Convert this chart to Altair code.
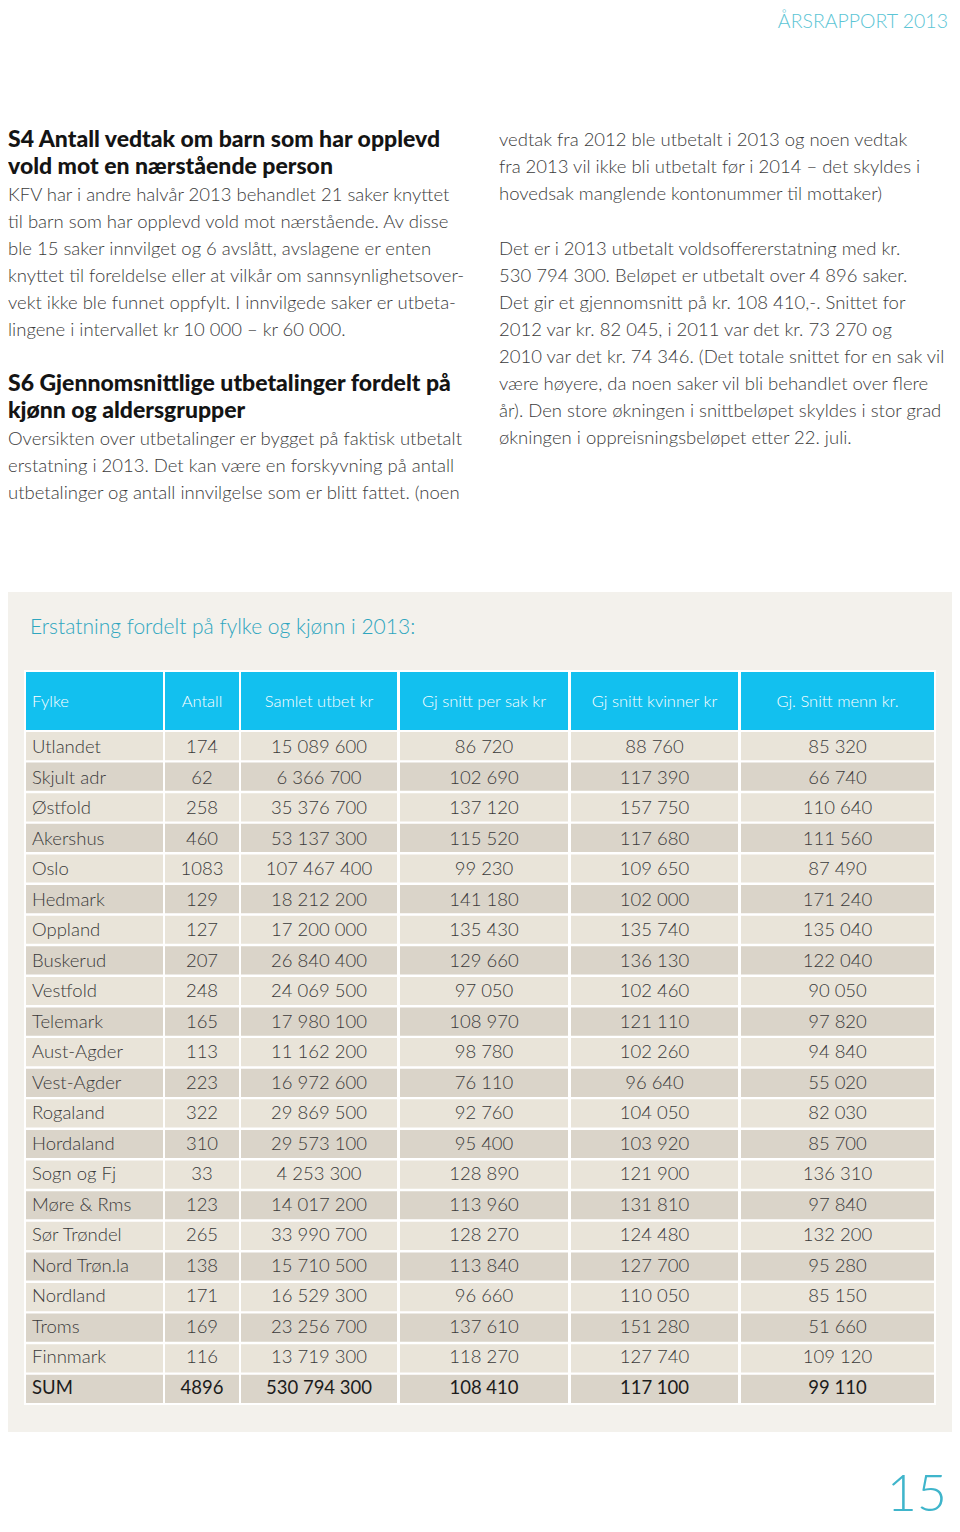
import altair as alt
import pandas as pd

# ---------------- data ----------------
fylke = ["Utlandet", "Skjult adr", "Østfold", "Akershus", "Oslo", "Hedmark", "Oppland",
         "Buskerud", "Vestfold", "Telemark", "Aust-Agder", "Vest-Agder", "Rogaland",
         "Hordaland", "Sogn og Fj", "Møre & Rms", "Sør Trøndel", "Nord Trøn.la",
         "Nordland", "Troms", "Finnmark", "SUM"]
antall = [174, 62, 258, 460, 1083, 129, 127, 207, 248, 165, 113, 223, 322, 310, 33,
          123, 265, 138, 171, 169, 116, 4896]
samlet = [15089600, 6366700, 35376700, 53137300, 107467400, 18212200, 17200000,
          26840400, 24069500, 17980100, 11162200, 16972600, 29869500, 29573100,
          4253300, 14017200, 33990700, 15710500, 16529300, 23256700, 13719300, 530794300]
snitt_sak = [86720, 102690, 137120, 115520, 99230, 141180, 135430, 129660, 97050,
             108970, 98780, 76110, 92760, 95400, 128890, 113960, 128270, 113840,
             96660, 137610, 118270, 108410]
snitt_kvinner = [88760, 117390, 157750, 117680, 109650, 102000, 135740, 136130, 102460,
                 121110, 102260, 96640, 104050, 103920, 121900, 131810, 124480, 127700,
                 110050, 151280, 127740, 117100]
snitt_menn = [85320, 66740, 110640, 111560, 87490, 171240, 135040, 122040, 90050,
              97820, 94840, 55020, 82030, 85700, 136310, 97840, 132200, 95280,
              85150, 51660, 109120, 99110]
headers = ["Fylke", "Antall", "Samlet utbet kr", "Gj snitt per sak kr",
           "Gj snitt kvinner kr", "Gj. Snitt menn kr."]

table_title = "Erstatning fordelt på fylke og kjønn i 2013:"
page_header = "ÅRSRAPPORT 2013"
page_number = "15"

left_head1 = ["S4 Antall vedtak om barn som har opplevd", "vold mot en nærstående person"]
left_body1 = ["KFV har i andre halvår 2013 behandlet 21 saker knyttet",
              "til barn som har opplevd vold mot nærstående. Av disse",
              "ble 15 saker innvilget og 6 avslått, avslagene er enten",
              "knyttet til foreldelse eller at vilkår om sannsynlighetsover-",
              "vekt ikke ble funnet oppfylt. I innvilgede saker er utbeta-",
              "lingene i intervallet kr 10 000 – kr 60 000."]
left_head2 = ["S6 Gjennomsnittlige utbetalinger fordelt på", "kjønn og aldersgrupper"]
left_body2 = ["Oversikten over utbetalinger er bygget på faktisk utbetalt",
              "erstatning i 2013. Det kan være en forskyvning på antall",
              "utbetalinger og antall innvilgelse som er blitt fattet. (noen"]
right_body1 = ["vedtak fra 2012 ble utbetalt i 2013 og noen vedtak",
               "fra 2013 vil ikke bli utbetalt før i 2014 – det skyldes i",
               "hovedsak manglende kontonummer til mottaker)"]
right_body2 = ["Det er i 2013 utbetalt voldsoffererstatning med kr.",
               "530 794 300. Beløpet er utbetalt over 4 896 saker.",
               "Det gir et gjennomsnitt på kr. 108 410,-. Snittet for",
               "2012 var kr. 82 045, i 2011 var det kr. 73 270 og",
               "2010 var det kr. 74 346. (Det totale snittet for en sak vil",
               "være høyere, da noen saker vil bli behandlet over flere",
               "år). Den store økningen i snittbeløpet skyldes i stor grad",
               "økningen i oppreisningsbeløpet etter 22. juli."]

# ---------------- layout (chart pixel coords = page coords - 8) ----------------
W, H = 944, 1516
OFF = 8
FONT = "Lato"
LH = 27  # line height
col_x0 = [26, 165, 241, 400, 571, 741]
col_x1 = [163, 239, 397, 568, 738, 934]


def fmt(v):
    return f"{v:,}".replace(",", " ")


def lines_df(lines, x, y0):
    return pd.DataFrame({"text": lines,
                         "x": [x - OFF] * len(lines),
                         "y": [y0 - OFF + i * LH for i in range(len(lines))]})


def text_layer(df, size, color, weight=400, align="left", font=FONT, baseline="middle"):
    return alt.Chart(df).mark_text(
        align=align, baseline=baseline, fontSize=size, color=color,
        fontWeight=weight, font=font
    ).encode(
        x=alt.X("x:Q", scale=None, axis=None),
        y=alt.Y("y:Q", scale=None, axis=None),
        text="text:N",
    )


body_color = "#3b3b3b"
head_color = "#141414"
LX = 8  # left column (page x)
RX = 499
BODY = 18.5
HEAD = 23

layers = []
# page header and number
layers.append(text_layer(pd.DataFrame({"text": [page_header], "x": [948 - OFF], "y": [22 - OFF]}),
                         19.5, "#5cc5d5", 300, "right"))
layers.append(text_layer(pd.DataFrame({"text": [page_number], "x": [947 - OFF], "y": [1522 - OFF]}),
                         52, "#3fb5cb", 300, "right", baseline="bottom"))

# paragraphs
layers.append(text_layer(lines_df(left_head1, LX, 140), HEAD, head_color, 900))
layers.append(text_layer(lines_df(left_body1, LX, 195), BODY, body_color, 300))
layers.append(text_layer(lines_df(left_head2, LX, 384), HEAD, head_color, 900))
layers.append(text_layer(lines_df(left_body2, LX, 439), BODY, body_color, 300))
layers.append(text_layer(lines_df(right_body1, RX, 140), BODY, body_color, 300))
layers.append(text_layer(lines_df(right_body2, RX, 249), BODY, body_color, 300))

# panel background
layers.append(alt.Chart(pd.DataFrame({"a": [0]})).mark_rect(color="#f3f1ec").encode(
    x=alt.value(2 - OFF), x2=alt.value(958 - OFF), y=alt.value(592 - OFF), y2=alt.value(1432 - OFF)))
# white table base
layers.append(alt.Chart(pd.DataFrame({"a": [0]})).mark_rect(color="#ffffff").encode(
    x=alt.value(24 - OFF), x2=alt.value(936 - OFF), y=alt.value(670 - OFF), y2=alt.value(1405 - OFF)))

layers.append(text_layer(pd.DataFrame({"text": [table_title], "x": [30 - OFF], "y": [628 - OFF]}),
                         21, "#2fa6bf", 300))

# header row
hdr = pd.DataFrame({"text": headers,
                    "x0": [v - OFF for v in col_x0], "x1": [v - OFF for v in col_x1]})
hdr["xt"] = [(a + b) / 2 for a, b in zip(hdr["x0"], hdr["x1"])]
hdr.loc[0, "xt"] = 32 - OFF
hdr["align"] = ["left"] + ["center"] * 5
layers.append(alt.Chart(hdr).mark_rect(color="#12c0ef").encode(
    x=alt.X("x0:Q", scale=None, axis=None), x2="x1:Q",
    y=alt.value(672 - OFF), y2=alt.value(730 - OFF)))
for al in ["left", "center"]:
    layers.append(alt.Chart(hdr[hdr["align"] == al]).mark_text(
        align=al, baseline="middle", fontSize=16.5, color="#ffffff", font=FONT, fontWeight=300
    ).encode(x=alt.X("xt:Q", scale=None, axis=None), y=alt.value(702 - OFF), text="text:N"))

# body cells
rows = []
cols_vals = [fylke, [str(v) for v in antall], [fmt(v) for v in samlet], [fmt(v) for v in snitt_sak],
             [fmt(v) for v in snitt_kvinner], [fmt(v) for v in snitt_menn]]
for r, name in enumerate(fylke):
    for c in range(6):
        x0 = col_x0[c] - OFF
        x1 = col_x1[c] - OFF
        rows.append({"row": name, "c": c, "text": cols_vals[c][r], "x0": x0, "x1": x1,
                     "xt": (32 - OFF) if c == 0 else (x0 + x1) / 2,
                     "shade": "light" if r % 2 == 0 else "dark",
                     "sum": name == "SUM"})
cells = pd.DataFrame(rows)

yscale = alt.Scale(domain=fylke, range=[732 - OFF, 1403 - OFF], paddingInner=0.08, paddingOuter=0)
yenc = alt.Y("row:N", scale=yscale, axis=None, sort=fylke)

layers.append(alt.Chart(cells).mark_rect().encode(
    x=alt.X("x0:Q", scale=None, axis=None), x2="x1:Q", y=yenc,
    color=alt.Color("shade:N", scale=alt.Scale(domain=["light", "dark"],
                                               range=["#e9e4d9", "#dad4c9"]), legend=None)))

for al, cond in [("left", cells["c"] == 0), ("center", cells["c"] > 0)]:
    for is_sum in [False, True]:
        sub = cells[cond & (cells["sum"] == is_sum)]
        layers.append(alt.Chart(sub).mark_text(
            align=al, baseline="middle", fontSize=18.5,
            color="#1c1c1c" if is_sum else "#3a3a3a",
            fontWeight=400 if is_sum else 300, font=FONT
        ).encode(x=alt.X("xt:Q", scale=None, axis=None), y=yenc, text="text:N"))

chart = alt.layer(*layers).resolve_scale(y="independent", x="independent", color="independent").properties(
    width=W, height=H, autosize=alt.AutoSizeParams(type="none"), padding=0, background="#ffffff"
).configure_view(stroke=None)

chart.save("out.html", embed_options={"renderer": "svg", "actions": False})
